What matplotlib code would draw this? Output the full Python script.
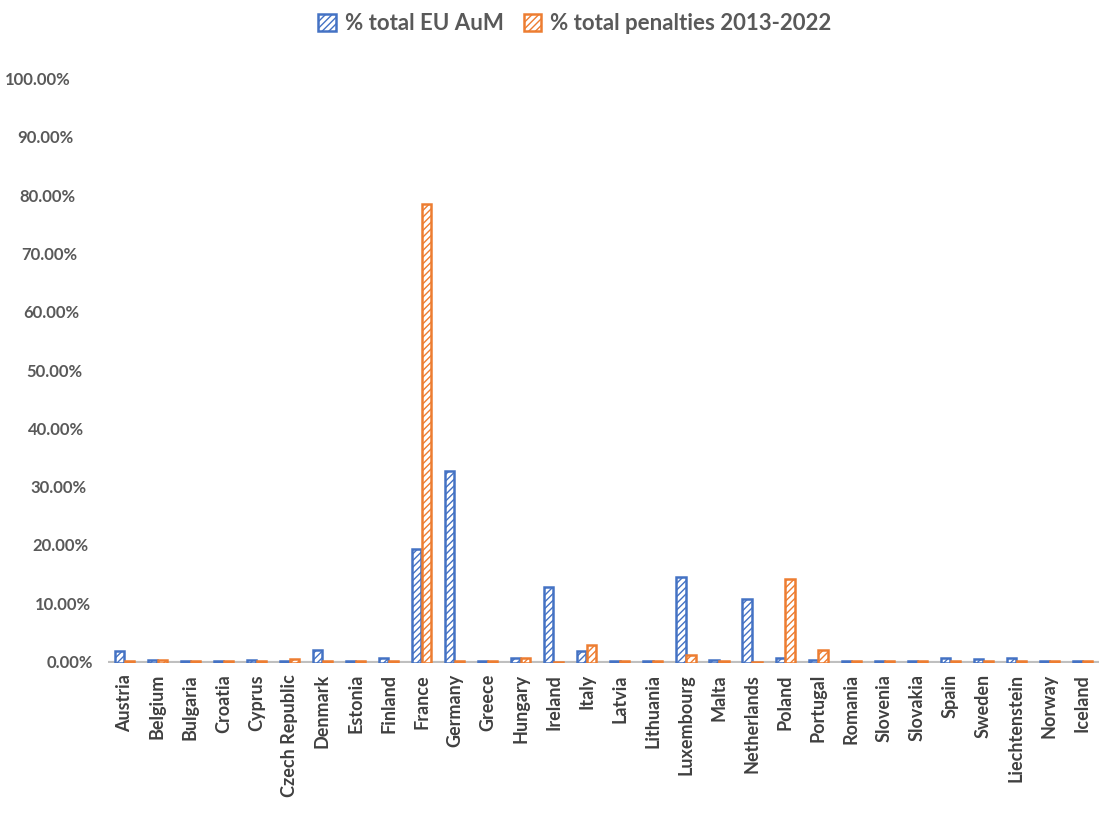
import matplotlib
matplotlib.use("Agg")
import matplotlib.pyplot as plt
import matplotlib.transforms as mtransforms
import numpy as np

countries = ["Austria", "Belgium", "Bulgaria", "Croatia", "Cyprus", "Czech Republic",
             "Denmark", "Estonia", "Finland", "France", "Germany", "Greece", "Hungary",
             "Ireland", "Italy", "Latvia", "Lithuania", "Luxembourg", "Malta",
             "Netherlands", "Poland", "Portugal", "Romania", "Slovenia", "Slovakia",
             "Spain", "Sweden", "Liechtenstein", "Norway", "Iceland"]

aum_share = [2.0, 0.5, 0.3, 0.3, 0.5, 0.3, 2.3, 0.4, 0.8, 19.6, 33.0, 0.4, 0.8,
             13.0, 2.0, 0.3, 0.3, 14.8, 0.6, 10.9, 0.9, 0.6, 0.4, 0.3, 0.3,
             0.8, 0.7, 0.9, 0.3, 0.3]

penalty_share = [0.3, 0.5, 0.3, 0.4, 0.4, 0.7, 0.3, 0.4, 0.3, 78.8, 0.3, 0.4, 0.9,
                 0.2, 3.1, 0.3, 0.3, 1.3, 0.4, 0.2, 14.4, 2.2, 0.3, 0.3, 0.3,
                 0.3, 0.3, 0.3, 0.3, 0.3]

series_names = ["% total EU AuM", "% total penalties 2013-2022"]
yticks = np.arange(0, 101, 10)
ytick_labels = [f"{v:.2f}%" for v in yticks]

blue = "#4472C4"
orange = "#ED7D31"
label_color = "#595959"
font = ["Lato", "DejaVu Sans"]

plt.rcParams["font.family"] = font
plt.rcParams["hatch.linewidth"] = 1.0

W, H = 1099, 823
fig = plt.figure(figsize=(W / 100, H / 100), dpi=100)
ax = fig.add_axes([0.098, 0.1944, 0.902, 0.7084])

x = np.arange(len(countries))
w = 0.28
ax.bar(x - w / 2 - 0.01, aum_share, width=w, facecolor="white", edgecolor=blue,
       hatch="/////", linewidth=1.8, label=series_names[0], zorder=3)
ax.bar(x + w / 2 + 0.01, penalty_share, width=w, facecolor="white", edgecolor=orange,
       hatch="/////", linewidth=1.8, label=series_names[1], zorder=3)

ax.set_xlim(-0.5, len(countries) - 0.5)
ax.set_ylim(0, 100)
ax.axhline(0, color="#BFBFBF", linewidth=3, zorder=2)

for s in ax.spines.values():
    s.set_visible(False)

# y labels: right edges drift slightly leftward toward the top of the axis
ax.set_yticks(yticks)
ax.set_yticklabels([])
label_tf = mtransforms.blended_transform_factory(fig.transFigure, ax.transData)
for v, lab in zip(yticks, ytick_labels):
    right_px = 93 - 2.2 * v / 10
    ax.text(right_px / W, v, lab, transform=label_tf, ha="right", va="center",
            fontsize=12, fontweight="bold", color=label_color, clip_on=False)

ax.set_xticks(x)
ax.set_xticklabels(countries, rotation=90, fontsize=13, fontweight="bold",
                   color="#404040")
ax.tick_params(axis="both", length=0)
ax.tick_params(axis="x", pad=8)

leg = fig.legend(loc="upper center", bbox_to_anchor=(0.523, 1.008), ncol=2,
                 frameon=False, handlelength=0.8, handleheight=0.8,
                 columnspacing=0.9, handletextpad=0.4,
                 prop={"family": font, "weight": "bold", "size": 16})
for t in leg.get_texts():
    t.set_color(label_color)

fig.savefig("out.png", dpi=100, facecolor="white")
